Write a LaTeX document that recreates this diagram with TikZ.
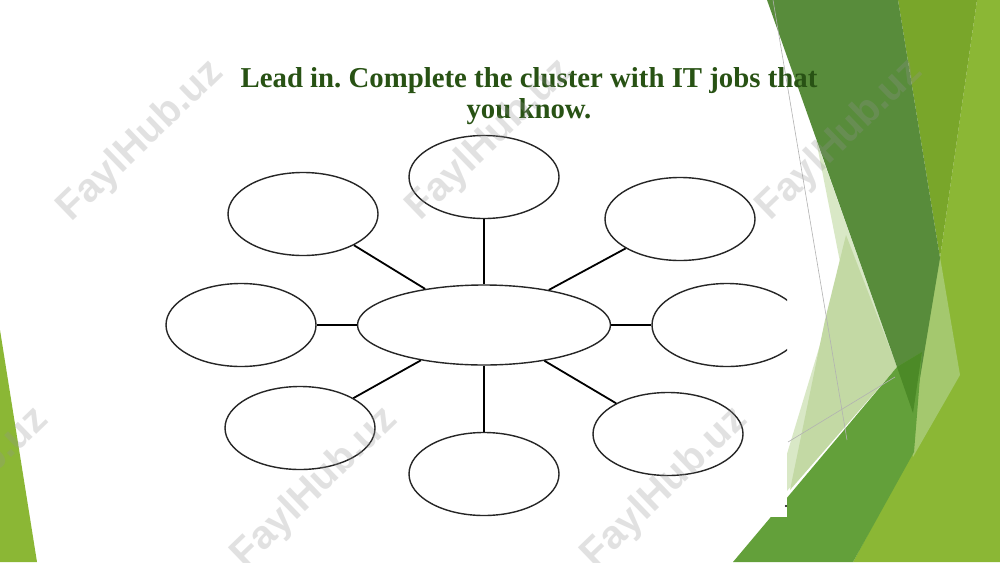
\documentclass[tikz,border=0pt]{standalone}
\usepackage{fontspec}
\setmainfont{Liberation Serif}
\setsansfont{Liberation Sans}
\usetikzlibrary{shapes.geometric}
\frenchspacing
\definecolor{titlegreen}{RGB}{40,82,20}
\definecolor{wmgray}{RGB}{147,147,147}
\definecolor{facetlime}{RGB}{139,183,53}
\definecolor{facetpale}{RGB}{164,200,110}
\definecolor{facetolive}{RGB}{121,166,42}
\definecolor{facetmist}{RGB}{217,232,198}
\definecolor{facetsage}{RGB}{195,217,164}
\definecolor{facetdark}{RGB}{88,140,59}
\definecolor{facetmid}{RGB}{99,160,58}
\definecolor{facetdeep}{RGB}{76,138,39}

\begin{document}
\begin{tikzpicture}[x=0.5pt,y=0.5pt,
  job/.style={ellipse,draw=black!85,line width=0.7pt,fill=white,inner sep=0pt,
    minimum width=75pt,minimum height=41.5pt},
  hubjob/.style={job,minimum width=126.5pt,minimum height=40pt},
  link/.style={black,line width=0.9pt},
  wmark/.style={rotate=44,font=\sffamily\bfseries\fontsize{20}{20}\selectfont,
    text=wmgray,text opacity=0.27}
]

\clip (0.000000,0.000000) rectangle (1000.000000,-562.000000);
\fill[white] (0.000000,0.000000) rectangle (1000.000000,-562.000000);

\fill[facetlime] (977.000000,0.000000) -- (1000.000000,0.000000) -- (1000.000000,-562.000000) -- (853.000000,-562.000000) -- (915.000000,-447.000000) -- (940.000000,-258.000000) -- cycle;
\fill[facetpale] (940.000000,-257.000000) -- (960.000000,-375.000000) -- (913.000000,-457.000000) -- (900.000000,-400.000000) -- cycle;
\fill[facetolive] (898.000000,0.000000) -- (977.000000,0.000000) -- (940.000000,-258.000000) -- cycle;
\fill[facetmist] (816.000000,-140.000000) -- (842.000000,-272.000000) -- (770.000000,-510.000000) -- (897.000000,-367.000000) -- cycle;
\fill[facetsage] (846.000000,-235.000000) -- (897.000000,-367.000000) -- (790.000000,-490.000000) -- (825.000000,-320.000000) -- cycle;
\fill[facetdark] (767.000000,0.000000) -- (898.000000,0.000000) -- (940.000000,-258.000000) -- (920.000000,-378.000000) -- (913.000000,-413.000000) -- (897.000000,-367.000000) -- cycle;
\fill[facetmid] (733.000000,-562.000000) -- (897.000000,-367.000000) -- (922.000000,-352.000000) -- (914.000000,-452.000000) -- (853.000000,-562.000000) -- cycle;
\fill[facetdeep] (897.000000,-367.000000) -- (922.000000,-352.000000) -- (913.000000,-413.000000) -- cycle;
\fill[facetlime] (0.000000,-330.000000) -- (0.000000,-562.000000) -- (37.000000,-562.000000) -- cycle;

\fill[white] (160.000000,-130.000000) rectangle (787.000000,-517.000000);
\draw[black!30,line width=0.3pt] (773.000000,0.000000) -- (847.000000,-440.000000);
\draw[black!30,line width=0.3pt] (788.000000,-442.000000) -- (895.000000,-377.000000);
\fill[black] (786.000000,-506.000000) circle (1.200000);

\node[font=\bfseries\fontsize{14.4}{15.5}\selectfont,text=titlegreen,align=center,anchor=north,inner sep=0pt]
  (title) at (529.000000,-67.000000) {Lead in. Complete the cluster with IT jobs that\\you know.};

\begin{scope}
\clip (160.000000,-130.000000) rectangle (787.000000,-517.000000);
\node[hubjob] (hub) at (484.000000,-325.000000) {};
\node[job] (jobn) at (484.000000,-177.000000) {};
\node[job] (jobnw) at (303.000000,-214.000000) {};
\node[job] (jobne) at (680.000000,-219.000000) {};
\node[job] (jobw) at (241.000000,-325.000000) {};
\node[job] (jobe) at (727.000000,-325.000000) {};
\node[job] (jobsw) at (300.000000,-428.000000) {};
\node[job] (jobs) at (484.000000,-474.000000) {};
\node[job] (jobse) at (668.000000,-434.000000) {};
\draw[link] (hub) -- (jobn);
\draw[link] (hub) -- (jobnw);
\draw[link] (hub) -- (jobne);
\draw[link] (hub) -- (jobw);
\draw[link] (hub) -- (jobe);
\draw[link] (hub) -- (jobsw);
\draw[link] (hub) -- (jobs);
\draw[link] (hub) -- (jobse);
\end{scope}

\node[wmark] (wma) at (141.000000,-141.000000) {FaylHub.uz};
\node[wmark] (wmb) at (490.000000,-140.000000) {FaylHub.uz};
\node[wmark] (wmc) at (840.000000,-140.000000) {FaylHub.uz};
\node[wmark] (wmd) at (-34.000000,-488.000000) {FaylHub.uz};
\node[wmark] (wme) at (315.000000,-488.000000) {FaylHub.uz};
\node[wmark] (wmf) at (665.000000,-488.000000) {FaylHub.uz};
\end{tikzpicture}
\end{document}
